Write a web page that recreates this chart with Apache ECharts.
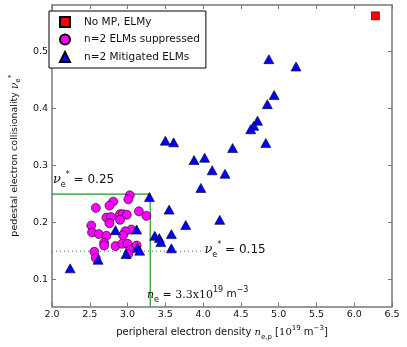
<!DOCTYPE html>
<html>
<head>
    <meta charset="UTF-8">
    <title>collisionality vs density</title>
    <script src="https://cdn.jsdelivr.net/npm/echarts@6/dist/echarts.min.js"></script>
</head>
<style>
    html, body { margin: 0; padding: 0; background: #fff; }
    #chart { width: 407px; height: 347px; }
</style>
<body>
<div id="chart"></div>
<script>
// data
const noMpX = [6.28];
const noMpY = [0.563];

const suppressedX = [3.03, 3.01, 2.81, 2.76, 2.58, 3.15, 3.25, 2.90, 2.94, 2.99, 2.72, 2.78, 2.90, 2.76, 2.52, 2.53,
    2.62, 2.72, 3.05, 2.97, 2.94, 2.69, 2.69, 2.84, 2.93, 3.00, 3.12, 3.03, 2.56, 2.58, 3.01];
const suppressedY = [0.248, 0.241, 0.237, 0.230, 0.226, 0.220, 0.212, 0.215, 0.215, 0.214, 0.209, 0.210, 0.205, 0.199, 0.195, 0.183,
    0.180, 0.177, 0.188, 0.185, 0.178, 0.165, 0.160, 0.159, 0.163, 0.163, 0.160, 0.152, 0.149, 0.138, 0.145];

const mitigatedX = [2.24, 2.61, 2.84, 3.12, 2.98, 3.13, 3.16, 3.29, 3.36, 3.42, 3.44, 3.58, 3.58, 3.55, 3.77, 4.22,
    3.97, 3.88, 4.02, 4.12, 3.50, 3.61, 4.39, 4.29, 5.23, 4.94, 4.85, 4.72, 4.67, 4.63, 4.83, 4.87];
const mitigatedY = [0.120, 0.135, 0.187, 0.188, 0.145, 0.156, 0.151, 0.245, 0.177, 0.173, 0.166, 0.180, 0.155, 0.223, 0.196, 0.205,
    0.261, 0.310, 0.314, 0.292, 0.344, 0.341, 0.331, 0.286, 0.474, 0.424, 0.408, 0.379, 0.370, 0.364, 0.340, 0.487];

// threshold lines
const boxLineX = [2.0, 3.3, 3.3];
const boxLineY = [0.25, 0.25, 0.053];
const dotLineX = [2.0, 4.0];
const dotLineY = [0.15, 0.15];

const yTicks = [0.1, 0.2, 0.3, 0.4, 0.5];

const zip = (xs, ys) => xs.map((x, i) => [x, ys[i]]);

const chart = echarts.init(document.getElementById('chart'), null, { renderer: 'canvas' });

const edge = { borderColor: '#000', borderWidth: 0.6 };
const frame = { lineStyle: { color: '#777', width: 1.5 } };
const tickIn = { inside: true, length: 4, lineStyle: { color: '#777', width: 1 } };

const rich = {
    nu: { fontFamily: 'DejaVu Serif', fontStyle: 'italic', fontSize: 13, lineHeight: 18, color: '#111' },
    n: { fontFamily: 'DejaVu Serif', fontStyle: 'italic', fontSize: 11, lineHeight: 18, color: '#111' },
    ser: { fontFamily: 'DejaVu Serif', fontSize: 11, lineHeight: 18, color: '#111' },
    sup: { fontSize: 8, lineHeight: 9, verticalAlign: 'top', color: '#111' },
    sub: { fontSize: 8, lineHeight: 11, verticalAlign: 'bottom', color: '#111' },
    t: { fontSize: 12, lineHeight: 18, color: '#111' },
    t2: { fontSize: 10.5, lineHeight: 18, color: '#111' }
};

const option = {
    animation: false,
    grid: { left: 43.5, right: 15, top: 5, bottom: 40.5 },
    legend: {
        orient: 'vertical',
        left: 49,
        top: 11,
        padding: [5, 6, 5, 10],
        itemWidth: 10,
        itemHeight: 10,
        itemGap: 5.5,
        borderColor: '#000',
        borderWidth: 1,
        borderRadius: 0,
        backgroundColor: '#fff',
        textStyle: { fontFamily: 'DejaVu Sans', fontSize: 10.5, color: '#111', lineHeight: 10, padding: [0, 0, 0, 9] },
        data: ['No MP, ELMy', 'n=2 ELMs suppressed', 'n=2 Mitigated ELMs']
    },
    xAxis: [{
        type: 'value', min: 2, max: 6.5, interval: 0.5,
        axisLine: Object.assign({ onZero: false }, frame),
        axisTick: tickIn,
        splitLine: { show: false },
        axisLabel: { margin: 3, fontFamily: 'DejaVu Sans', fontSize: 9.5, color: '#111', formatter: v => v.toFixed(1) },
        name: 'peripheral electron density {n|n}{sub|e,p} [{ser|10}{sup|19} m{sup|−3}]',
        nameLocation: 'middle',
        nameGap: 8,
        nameTextStyle: {
            fontFamily: 'DejaVu Sans', fontSize: 10, color: '#111', verticalAlign: 'top',
            rich: {
                n: { fontFamily: 'DejaVu Serif', fontStyle: 'italic', fontSize: 10, lineHeight: 16 },
                ser: { fontFamily: 'DejaVu Serif', fontSize: 10, lineHeight: 16 },
                sup: { fontSize: 7, lineHeight: 8, verticalAlign: 'top' },
                sub: { fontSize: 7, lineHeight: 9, verticalAlign: 'bottom' }
            }
        }
    }, {
        type: 'value', position: 'top', min: 2, max: 6.5, interval: 0.5,
        axisLine: Object.assign({ onZero: false }, frame),
        axisTick: tickIn,
        axisLabel: { show: false },
        splitLine: { show: false }
    }],
    yAxis: [{
        type: 'value', min: 0.053, max: 0.582,
        axisLine: Object.assign({ onZero: false }, frame),
        axisTick: Object.assign({ customValues: yTicks }, tickIn),
        splitLine: { show: false },
        axisLabel: { customValues: yTicks, margin: 4, fontFamily: 'DejaVu Sans', fontSize: 9.5, color: '#111', formatter: v => v.toFixed(1) },
        name: 'pedestal electron collisionality {nu|ν}{sub|e}{sup|*}',
        nameLocation: 'middle',
        nameRotate: 90,
        nameGap: 25,
        nameTextStyle: {
            fontFamily: 'DejaVu Sans', fontSize: 9.5, color: '#111',
            rich: {
                nu: { fontFamily: 'DejaVu Serif', fontStyle: 'italic', fontSize: 10.5, lineHeight: 14 },
                sup: { fontSize: 7, lineHeight: 7, verticalAlign: 'top' },
                sub: { fontSize: 7, lineHeight: 9, verticalAlign: 'bottom' }
            }
        }
    }, {
        type: 'value', position: 'right', min: 0.053, max: 0.582,
        axisLine: Object.assign({ onZero: false }, frame),
        axisTick: Object.assign({ customValues: yTicks }, tickIn),
        axisLabel: { show: false },
        splitLine: { show: false }
    }],
    series: [{
        name: 'No MP, ELMy',
        type: 'scatter',
        symbol: 'rect',
        symbolSize: 8,
        itemStyle: Object.assign({ color: '#ff0000', opacity: 1 }, edge),
        data: zip(noMpX, noMpY),
        z: 3
    }, {
        name: 'n=2 ELMs suppressed',
        type: 'scatter',
        symbol: 'circle',
        symbolSize: 9,
        itemStyle: Object.assign({ color: '#ff00ff', opacity: 1 }, edge),
        data: zip(suppressedX, suppressedY),
        z: 3
    }, {
        name: 'n=2 Mitigated ELMs',
        type: 'scatter',
        symbol: 'triangle',
        symbolSize: [10, 9],
        itemStyle: Object.assign({ color: '#0000ff', opacity: 1 }, edge),
        data: zip(mitigatedX, mitigatedY),
        z: 4
    }, {
        type: 'line',
        data: zip(boxLineX, boxLineY),
        showSymbol: false,
        symbol: 'none',
        lineStyle: { color: '#1f9a1f', width: 1.2 },
        silent: true,
        z: 2
    }, {
        type: 'line',
        data: zip(dotLineX, dotLineY),
        showSymbol: false,
        symbol: 'none',
        lineStyle: { color: '#1f9a1f', width: 1, type: [1, 3] },
        silent: true,
        z: 2
    }, {
        // text notes, anchored at their left edge
        type: 'scatter',
        symbolSize: 0,
        itemStyle: { opacity: 1 },
        silent: true,
        z: 5,
        label: { show: true, position: 'right', distance: 0, offset: [-7, 0], fontFamily: 'DejaVu Sans', color: '#111', opacity: 1, rich: rich },
        data: [
            { value: [2.105, 0.275], label: { formatter: '{nu|ν}{sub|e}{sup|*}{t| = 0.25}' } },
            { value: [4.11, 0.1526], label: { formatter: '{nu|ν}{sub|e}{sup|*}{t| = 0.15}' } },
            { value: [3.35, 0.0737], label: { formatter: '{n|n}{sub|e}{ser| = 3.3x10}{sup|19}{t2| m}{sup|−3}' } }
        ]
    }]
};

chart.setOption(option);
</script>
</body>
</html>
